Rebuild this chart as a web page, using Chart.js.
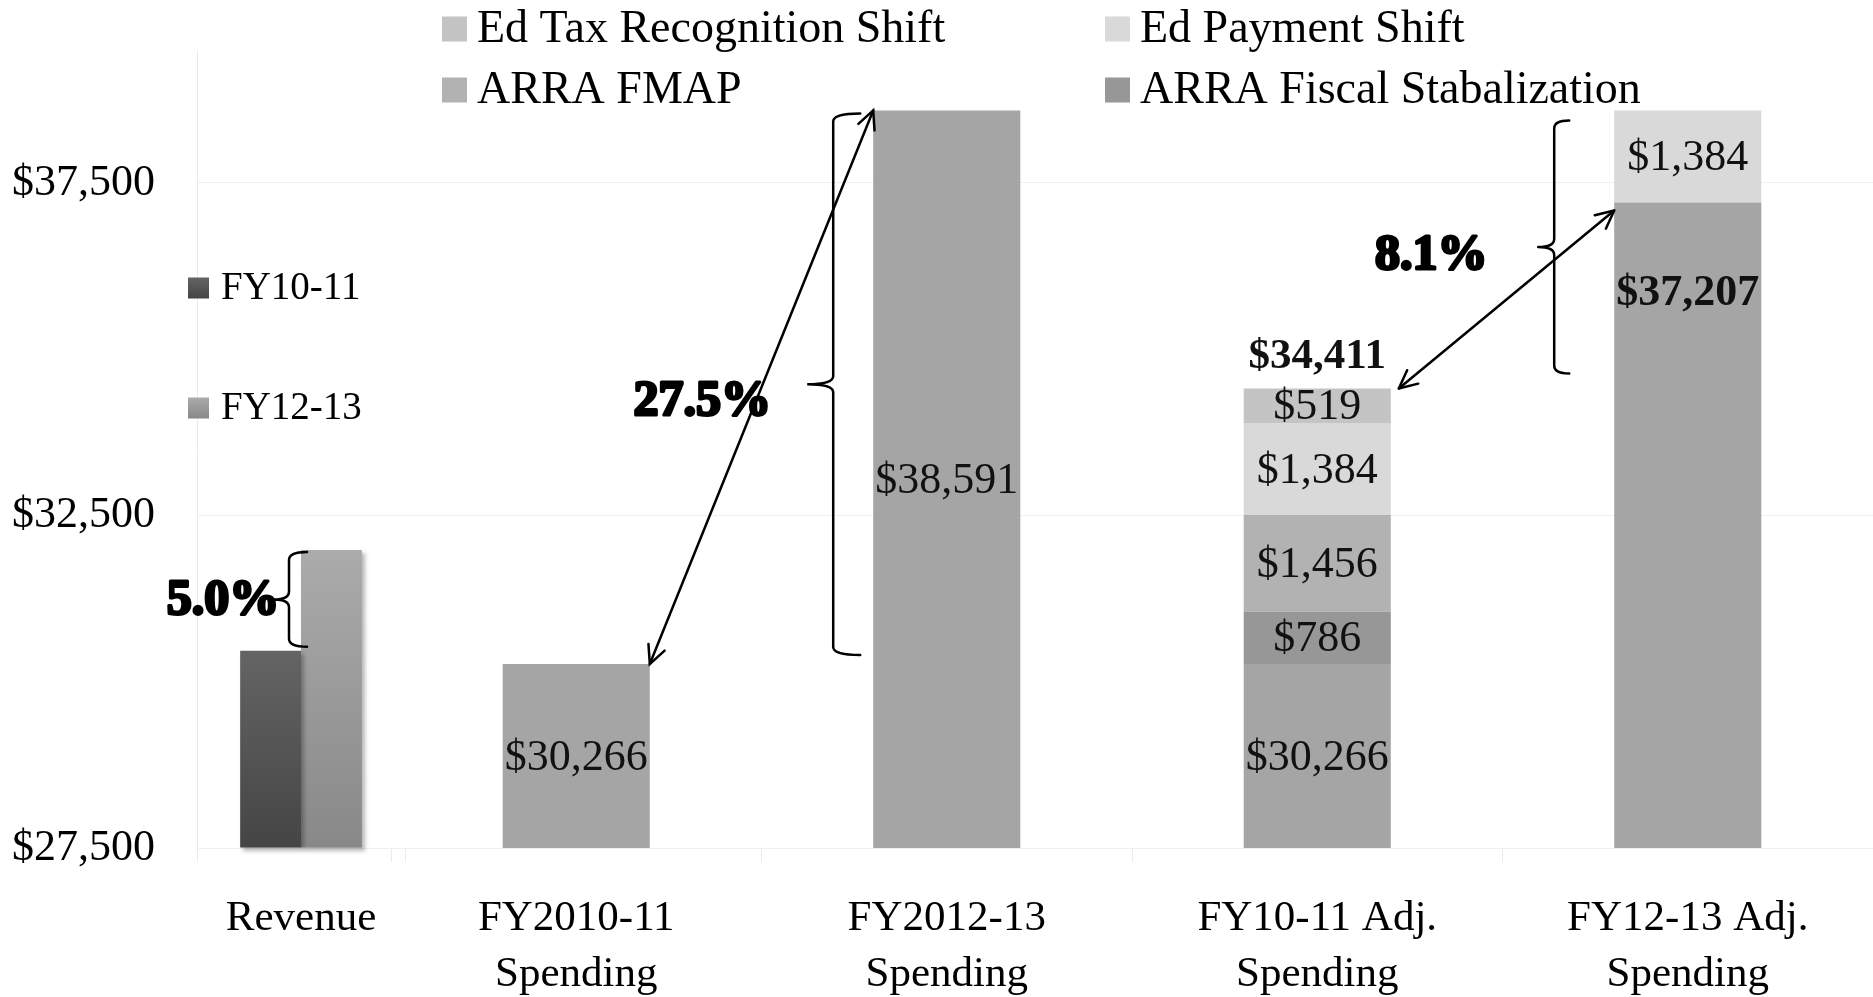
<!DOCTYPE html>
<html>
<head>
<meta charset="utf-8">
<title>Revenue vs Spending</title>
<script src="https://cdn.jsdelivr.net/npm/chart.js@4.4.1/dist/chart.umd.min.js"></script>
<style>
  html, body { margin: 0; padding: 0; background: #fff; overflow: hidden; }
  #wrap { position: relative; width: 1873px; height: 997px; }
  #wrap canvas { position: absolute; left: 0; top: 0; }
</style>
</head>
<body>
<div id="wrap">
  <canvas id="revenue" width="1873" height="997"></canvas>
  <canvas id="spending" width="1873" height="997"></canvas>
</div>
<script>
// datos
const yMin = 27500;
const yMax = 39500;
const yTicks = [27500, 32500, 37500];

const revenueLabels = ['Revenue'];
const revenueSeries = ['FY10-11', 'FY12-13'];
const revenueValues = [30465, 31980];
const revenueTop = ['#646464', '#ababab'];
const revenueBottom = ['#454545', '#888888'];

const spendingLabels = [
  ['FY2010-11', 'Spending'],
  ['FY2012-13', 'Spending'],
  ['FY10-11 Adj.', 'Spending'],
  ['FY12-13 Adj.', 'Spending']
];
const baseSpending = [30266, 38591, 30266, 37207];
const arraFiscal   = [null, null, 786, null];
const arraFmap     = [null, null, 1456, null];
const edPayment    = [null, null, 1384, 1384];
const edTax        = [null, null, 519, null];

const legendOrder = ['Ed Tax Recognition Shift', 'Ed Payment Shift', 'ARRA FMAP', 'ARRA Fiscal Stabalization'];

const serif = '"Liberation Serif", "Times New Roman", serif';
Chart.defaults.font.family = serif;
Chart.defaults.color = '#000';

const money = v => '$' + Number(v).toLocaleString('en-US');

function yScale(showLabels, width, stacked) {
  return {
    min: yMin,
    max: yMax,
    stacked: stacked,
    afterBuildTicks: s => { s.ticks = yTicks.map(v => ({ value: v })); },
    afterFit: s => { s.width = width; s.paddingTop = 0; s.paddingBottom = 0; },
    grid: { color: '#f0f0f0', drawTicks: false },
    border: { display: showLabels, color: '#ebebeb' },
    ticks: { display: showLabels, padding: 42, font: { size: 44 }, color: '#000', callback: v => money(v) }
  };
}

function xScale(stacked) {
  return {
    stacked: stacked,
    afterFit: s => { s.height = 149; s.paddingLeft = 0; s.paddingRight = 0; },
    grid: { offset: true, drawOnChartArea: false, drawTicks: true, tickLength: 14, color: '#ebebeb' },
    border: { color: '#f0f0f0' },
    ticks: { padding: 29, font: { size: 43, lineHeight: 1.3 }, color: '#000', maxRotation: 0, autoSkip: false }
  };
}

function vGradient(ctx, y0, y1, top, bottom) {
  if (!isFinite(y0) || !isFinite(y1) || y0 === y1) return bottom;
  const g = ctx.createLinearGradient(0, y0, 0, y1);
  g.addColorStop(0, top);
  g.addColorStop(1, bottom);
  return g;
}

// valor acumulado de la pila hasta el dataset di
function stackValue(chart, di, i) {
  const own = chart.data.datasets[di];
  if (own.stack === undefined) return own.data[i] || 0;
  let s = 0;
  for (let k = 0; k <= di; k++) {
    const ds = chart.data.datasets[k];
    if (ds.stack === own.stack) s += ds.data[i] || 0;
  }
  return s;
}

function drawBrace(ctx, x, top, bottom, arm, nub) {
  const mid = (top + bottom) / 2;
  const r = 8;
  ctx.beginPath();
  ctx.moveTo(x + arm, top);
  ctx.quadraticCurveTo(x, top, x, top + r);
  ctx.lineTo(x, mid - r);
  ctx.quadraticCurveTo(x, mid, x - nub, mid);
  ctx.quadraticCurveTo(x, mid, x, mid + r);
  ctx.lineTo(x, bottom - r);
  ctx.quadraticCurveTo(x, bottom, x + arm, bottom);
  ctx.stroke();
}

function drawArrowHead(ctx, x, y, ang) {
  const len = 20, spread = 0.45;
  ctx.beginPath();
  ctx.moveTo(x - len * Math.cos(ang - spread), y - len * Math.sin(ang - spread));
  ctx.lineTo(x, y);
  ctx.lineTo(x - len * Math.cos(ang + spread), y - len * Math.sin(ang + spread));
  ctx.stroke();
}

const growthMarks = {
  id: 'growthMarks',
  afterDatasetsDraw(chart, args, opts) {
    const { ctx } = chart;
    ctx.save();
    ctx.strokeStyle = '#000';
    ctx.fillStyle = '#000';
    ctx.lineWidth = 2.5;
    ctx.lineCap = 'round';
    opts.items.forEach(it => {
      const from = chart.getDatasetMeta(it.from[0]).data[it.from[1]];
      const to = chart.getDatasetMeta(it.to[0]).data[it.to[1]];
      const topEl = chart.getDatasetMeta(it.braceTop[0]).data[it.braceTop[1]];
      const vFrom = stackValue(chart, it.from[0], it.from[1]);
      const vTo = stackValue(chart, it.to[0], it.to[1]);
      const pct = ((vTo / vFrom - 1) * 100).toFixed(1) + '%';

      const toLeft = to.x - to.width / 2;
      const bx = toLeft + it.braceDx;
      const bTop = topEl.y + it.insetTop;
      const bBottom = from.y - it.insetBottom;
      drawBrace(ctx, bx, bTop, bBottom, it.arm, it.nub);

      if (it.arrow) {
        const x1 = from.x + from.width / 2 + (it.arrowFromDx || 0);
        const y1 = from.y;
        const x2 = toLeft;
        const y2 = to.y + (it.arrowToDy || 0);
        ctx.beginPath();
        ctx.moveTo(x1, y1);
        ctx.lineTo(x2, y2);
        ctx.stroke();
        const ang = Math.atan2(y2 - y1, x2 - x1);
        drawArrowHead(ctx, x2, y2, ang);
        drawArrowHead(ctx, x1, y1, ang + Math.PI);
      }

      ctx.font = 'bold 50px ' + serif;
      ctx.textAlign = 'center';
      ctx.textBaseline = 'middle';
      ctx.lineWidth = 3;
      ctx.lineJoin = 'round';
      const tx = bx + it.textDx, ty = (bTop + bBottom) / 2 + it.textDy;
      ctx.strokeText(pct, tx, ty);
      ctx.fillText(pct, tx, ty);
      ctx.lineWidth = 2.5;
    });
    ctx.restore();
  }
};

const gridLegend = {
  id: 'gridLegend',
  afterDraw(chart, args, opts) {
    const { ctx } = chart;
    ctx.save();
    ctx.font = opts.fontSize + 'px ' + serif;
    ctx.textBaseline = 'middle';
    ctx.textAlign = 'left';
    opts.order.forEach((name, n) => {
      const di = chart.data.datasets.findIndex(d => d.label === name);
      const ds = chart.data.datasets[di];
      const x = opts.cols[n % opts.cols.length];
      const y = opts.rows[Math.floor(n / opts.cols.length)];
      const b = opts.box;
      ctx.fillStyle = ds.legendTop
        ? vGradient(ctx, y - b / 2, y + b / 2, ds.legendTop, ds.legendBottom)
        : ds.backgroundColor;
      ctx.fillRect(x, y - b / 2, b, b);
      ctx.fillStyle = '#000';
      ctx.fillText(name, x + b + opts.gap, y + 1);
    });
    ctx.restore();
  }
};

const valueLabels = {
  id: 'valueLabels',
  afterDatasetsDraw(chart, args, opts) {
    const { ctx } = chart;
    const bottom = chart.chartArea.bottom;
    ctx.save();
    ctx.textAlign = 'center';
    ctx.textBaseline = 'middle';
    ctx.fillStyle = '#111';
    chart.data.datasets.forEach((ds, di) => {
      chart.getDatasetMeta(di).data.forEach((bar, i) => {
        const v = ds.data[i];
        if (!v) return;
        const special = opts.boldTop.find(b => b.dataset === di && b.index === i);
        if (special) {
          ctx.font = 'bold 44px ' + serif;
          ctx.fillText(money(v), bar.x, bar.y + special.offset);
        } else {
          ctx.font = '44px ' + serif;
          ctx.fillText(money(v), bar.x, (bar.y + Math.min(bar.base, bottom)) / 2 + 2);
        }
      });
    });
    // total sobre la pila
    opts.totals.forEach(t => {
      let top = Infinity, total = 0;
      chart.data.datasets.forEach((ds, di) => {
        if (!ds.data[t.index]) return;
        total += ds.data[t.index];
        top = Math.min(top, chart.getDatasetMeta(di).data[t.index].y);
      });
      const x = chart.getDatasetMeta(0).data[t.index].x;
      ctx.font = 'bold 43px ' + serif;
      ctx.fillText(money(total), x, top - t.offset);
    });
    ctx.restore();
  }
};

const barShadow = {
  id: 'barShadow',
  beforeDatasetsDraw(chart) {
    const { ctx } = chart;
    ctx.save();
    ctx.shadowColor = 'rgba(0,0,0,0.28)';
    ctx.shadowBlur = 4;
    ctx.shadowOffsetX = 3;
    ctx.shadowOffsetY = 3;
  },
  afterDatasetsDraw(chart) {
    chart.ctx.restore();
  }
};

// grafico de ingresos
new Chart(document.getElementById('revenue'), {
  type: 'bar',
  data: {
    labels: revenueLabels,
    datasets: revenueSeries.map((name, k) => ({
      label: name,
      data: [revenueValues[k]],
      base: yMin,
      legendTop: revenueTop[k],
      legendBottom: revenueBottom[k],
      clip: false,
      backgroundColor: c => {
        const s = c.chart.scales.y;
        if (!s || c.raw == null || !c.chart.chartArea) return revenueBottom[k];
        return vGradient(c.chart.ctx, s.getPixelForValue(c.raw), s.getPixelForValue(yMin), revenueTop[k], revenueBottom[k]);
      },
      categoryPercentage: 0.585,
      barPercentage: 1.0
    }))
  },
  options: {
    responsive: false,
    animation: false,
    events: [],
    layout: { padding: { top: 50, right: 1468, bottom: 0, left: 0 } },
    scales: {
      x: xScale(false),
      y: yScale(true, 197, false)
    },
    plugins: {
      legend: { display: false },
      tooltip: { enabled: false },
      gridLegend: { order: revenueSeries, cols: [188], rows: [288, 408], box: 21, gap: 12, fontSize: 39 },
      growthMarks: {
        items: [
          { from: [0, 0], to: [1, 0], braceTop: [1, 0], arrow: false, braceDx: -12, insetTop: 2, insetBottom: 4, arm: 18, nub: 15, textDx: -66, textDy: 2 }
        ]
      }
    }
  },
  plugins: [barShadow, gridLegend, growthMarks]
});

// grafico de gasto
new Chart(document.getElementById('spending'), {
  type: 'bar',
  data: {
    labels: spendingLabels,
    datasets: [
      { label: 'Base', data: baseSpending, backgroundColor: '#a5a5a5' },
      { label: 'ARRA Fiscal Stabalization', data: arraFiscal, backgroundColor: '#979797' },
      { label: 'ARRA FMAP', data: arraFmap, backgroundColor: '#b2b2b2' },
      { label: 'Ed Payment Shift', data: edPayment, backgroundColor: '#d9d9d9' },
      { label: 'Ed Tax Recognition Shift', data: edTax, backgroundColor: '#c4c4c4' }
    ].map(d => Object.assign(d, { stack: 's', categoryPercentage: 1.0, barPercentage: 0.397 }))
  },
  options: {
    responsive: false,
    animation: false,
    events: [],
    layout: { padding: { top: 50, right: 0, bottom: 0, left: 0 } },
    scales: {
      x: xScale(true),
      y: yScale(false, 391, true)
    },
    plugins: {
      legend: { display: false },
      tooltip: { enabled: false },
      gridLegend: { order: legendOrder, cols: [442, 1105], rows: [29, 90], box: 25, gap: 10, fontSize: 46 },
      valueLabels: {
        boldTop: [{ dataset: 0, index: 3, offset: 91 }],
        totals: [{ index: 2, offset: 32 }]
      },
      growthMarks: {
        items: [
          { from: [0, 0], to: [0, 1], braceTop: [0, 1], arrow: true, braceDx: -40, insetTop: 3, insetBottom: 9, arm: 27, nub: 26, textDx: -131, textDy: 18 },
          { from: [4, 2], to: [0, 3], braceTop: [3, 3], arrow: true, braceDx: -60, insetTop: 10, insetBottom: 15, arm: 15, nub: 16, textDx: -123, textDy: 9, arrowFromDx: 8, arrowToDy: 8 }
        ]
      }
    }
  },
  plugins: [valueLabels, gridLegend, growthMarks]
});
</script>
</body>
</html>
